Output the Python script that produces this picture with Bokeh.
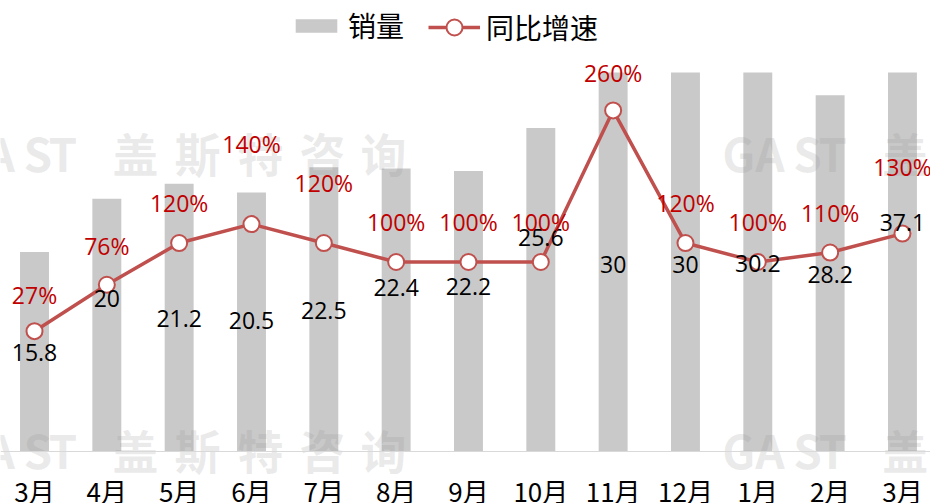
from bokeh.plotting import figure
from bokeh.models import (ColumnDataSource, Range1d, LabelSet, Label, Span,
                          Legend, LegendItem)
from bokeh.core.properties import value
from bokeh.embed import file_html
from bokeh.resources import INLINE

# ---- data ----
months = ["3月", "4月", "5月", "6月", "7月", "8月", "9月", "10月", "11月", "12月", "1月", "2月", "3月"]
sales = [15.8, 20, 21.2, 20.5, 22.5, 22.4, 22.2, 25.6, 30, 30, 30.2, 28.2, 37.1]
growth = [27, 76, 120, 140, 120, 100, 100, 100, 260, 120, 100, 110, 130]

# label anchor heights (in each series' own units)
sales_label_at = [7.8, 12.1, 10.5, 10.4, 11.2, 13.0, 13.1, 16.9, 14.8, 14.8, 14.9, 14.0, 18.1]
growth_label_at = [65, 117, 162, 225, 183, 142, 142, 142, 300, 162, 142, 152, 200]

# axes of the original chart (bars taller than the axis max are cut at the plot edge)
SALES_AXIS = (0, 30)
GROWTH_AXIS = (-100, 300)

BAR_COLOR = "#c9c9c9"
LINE_COLOR = "#c0504d"
PCT_TEXT = "#c00000"
CJK = "Noto Sans CJK SC"
NUM = "Open Sans"

# layout (pixels): canvas 930x503; plot area from 72 to 451 from the top
CANVAS_W, CANVAS_H, PLOT_TOP, PLOT_BOTTOM = 930, 503, 72, 451
px_per_unit = (PLOT_BOTTOM - PLOT_TOP) / (SALES_AXIS[1] - SALES_AXIS[0])
y0 = SALES_AXIS[0] - (CANVAS_H - PLOT_BOTTOM) / px_per_unit
y1 = SALES_AXIS[1] + PLOT_TOP / px_per_unit
k = (GROWTH_AXIS[1] - GROWTH_AXIS[0]) / (SALES_AXIS[1] - SALES_AXIS[0])
g0 = GROWTH_AXIS[0] + (y0 - SALES_AXIS[0]) * k
g1 = GROWTH_AXIS[0] + (y1 - SALES_AXIS[0]) * k
MONTH_LABEL_Y = SALES_AXIS[0] - 39 / px_per_unit

# category slots: first centre 34px from the left, 72.33px apart
SLOT = 72.33
x_start = -34 / SLOT
x_end = x_start + CANVAS_W / SLOT

xs = list(range(len(months)))
src = ColumnDataSource(dict(
    x=xs, sales=sales, growth=growth,
    bar_top=[min(v, SALES_AXIS[1]) for v in sales],
    sales_txt=[f"{v:g}" for v in sales],
    growth_txt=[f"{g}%" for g in growth],
    sales_lab=sales_label_at, growth_lab=growth_label_at,
    month=months, month_y=[MONTH_LABEL_Y] * len(months),
))

p = figure(width=CANVAS_W, height=CANVAS_H, output_backend="svg", toolbar_location=None,
           x_range=Range1d(x_start, x_end), y_range=Range1d(y0, y1),
           x_axis_location=None, y_axis_location=None,
           min_border_left=0, min_border_right=0, min_border_top=0, min_border_bottom=0)
p.extra_y_ranges = {"pct": Range1d(g0, g1)}
p.outline_line_color = None
p.xgrid.visible = False
p.ygrid.visible = False
p.background_fill_color = "white"

bars = p.vbar(x="x", top="bar_top", width=0.40, bottom=0, source=src,
              fill_color=BAR_COLOR, line_color=None)

# base line of the category axis
p.add_layout(Span(location=0, dimension="width", line_color="#d9d9d9", line_width=1))

# watermark (two rows, two instances per row)
wm_chars = ["G", "A", "S", "T", "盖", "斯", "特", "咨", "询"]
wm_offsets = [0, 33, 71, 96, 160, 222, 285, 347, 408]
for wx in (-1.134, 9.51):
    for wy in (23.7, 0.16):
        for ch, off in zip(wm_chars, wm_offsets):
            p.add_layout(Label(x=wx, y=wy, x_offset=off, text=ch, text_font=CJK,
                               text_font_size="46px", text_font_style="bold",
                               text_color="#939393", text_alpha=0.19,
                               text_baseline="middle", text_align="left", level="glyph"))

line_r = p.line(x="x", y="growth", source=src, y_range_name="pct",
                line_color=LINE_COLOR, line_width=3.5)
dots = p.scatter(x="x", y="growth", source=src, y_range_name="pct", size=16,
                 marker="circle", fill_color="white", line_color=LINE_COLOR, line_width=2)

p.add_layout(LabelSet(x="x", y="sales_lab", text="sales_txt", source=src,
                      text_font=value(NUM), text_font_size=value("23px"), text_color="black",
                      text_align="center", text_baseline="middle"))
p.add_layout(LabelSet(x="x", y="growth_lab", text="growth_txt", source=src,
                      y_range_name="pct", text_font=value(NUM), text_font_size=value("23px"),
                      text_color=PCT_TEXT, text_align="center", text_baseline="middle"))
# category (month) labels
p.add_layout(LabelSet(x="x", y="month_y", text="month", source=src,
                      text_font=value(CJK), text_font_size=value("26px"), text_color="black",
                      text_align="center", text_baseline="middle"))

legend_common = dict(orientation="horizontal", label_text_font=CJK,
                     label_text_font_size="28px", label_text_color="black",
                     glyph_width=52, label_standoff=6, padding=0, margin=0,
                     border_line_color=None, background_fill_alpha=0)
leg1 = Legend(items=[LegendItem(label="销量", renderers=[bars])],
              location=(290, 458), glyph_height=17, **legend_common)
leg2 = Legend(items=[LegendItem(label="同比增速", renderers=[line_r, dots])],
              location=(428, 456), glyph_height=40, **legend_common)
p.add_layout(leg1)
p.add_layout(leg2)

open("out.html", "w").write(file_html(p, INLINE))
